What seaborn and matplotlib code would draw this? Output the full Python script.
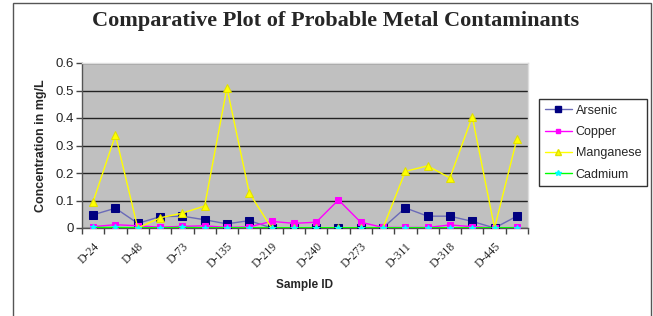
import numpy as np
import pandas as pd
import matplotlib
matplotlib.use("Agg")
import matplotlib.pyplot as plt
import seaborn as sns
from matplotlib.patches import Rectangle
from matplotlib.lines import Line2D

sample_labels = ["D-24", "D-48", "D-73", "D-135", "D-219", "D-240", "D-273", "D-311", "D-318", "D-445"]
arsenic = [0.048, 0.072, 0.017, 0.041, 0.043, 0.030, 0.015, 0.027, 0.0, 0.0,
           0.0, 0.0, 0.0, 0.001, 0.073, 0.043, 0.043, 0.024, 0.0, 0.043]
copper = [0.005, 0.012, 0.008, 0.003, 0.006, 0.008, 0.002, 0.004, 0.024, 0.017,
          0.021, 0.102, 0.021, 0.002, 0.002, 0.002, 0.011, 0.005, 0.0, 0.002]
manganese = [0.096, 0.338, 0.0, 0.037, 0.054, 0.080, 0.510, 0.128, 0.0, 0.0,
             0.0, 0.0, 0.0, 0.0, 0.206, 0.226, 0.182, 0.405, 0.0, 0.323]
cadmium = [0.002, 0.002, 0.001, 0.001, 0.002, 0.001, 0.001, 0.001, 0.001, 0.001,
           0.001, 0.001, 0.001, 0.001, 0.001, 0.001, 0.001, 0.001, 0.001, 0.001]

sns.set_theme(style="white")
plt.rcParams['font.family'] = ['Liberation Sans', 'DejaVu Sans']

n = len(arsenic)
xpos = np.arange(n)

fig = plt.figure(figsize=(6.53, 3.16), dpi=100)
ax = fig.add_axes([82/653, 1 - 228/316, 446/653, 165/316])
ax.set_facecolor("#C0C0C0")

series = [
    ("Arsenic", arsenic, dict(color="#6A6AB8", marker="s", markersize=5.8, markerfacecolor="#000080", markeredgecolor="#000080")),
    ("Copper", copper, dict(color="#FF00FF", marker="s", markersize=4, markerfacecolor="#FF00FF", markeredgecolor="#FF00FF")),
    ("Manganese", manganese, dict(color="#FFFF00", marker="^", markersize=5.5, markerfacecolor="#FFFF00", markeredgecolor="#E0E000")),
    ("Cadmium", cadmium, dict(color="#00FF00", marker="*", markersize=4, markerfacecolor="#00FFFF", markeredgecolor="#00FFFF")),
]

for name, vals, st in series:
    df = pd.DataFrame({"x": xpos, "y": vals})
    sns.lineplot(data=df, x="x", y="y", ax=ax, linewidth=1.0, zorder=3, **st)

ax.set_xlim(-0.5, n - 0.5)
ax.set_ylim(0, 0.6)
ax.set_yticks(np.arange(0, 0.61, 0.1))
ax.set_yticklabels(["0", "0.1", "0.2", "0.3", "0.4", "0.5", "0.6"], fontsize=9.5)
ax.yaxis.grid(True, color="#222222", linewidth=1.0)
ax.set_axisbelow(True)

ax.set_xticks(np.arange(-0.5, n, 1.0), minor=True)
ax.set_xticks(xpos[::2])
ax.set_xticklabels(sample_labels, rotation=45, ha="right", rotation_mode="anchor",
                   family=["Liberation Serif", "DejaVu Serif"], fontsize=8.5)
ax.tick_params(axis="x", which="major", length=0, pad=9)
ax.tick_params(axis="x", which="minor", length=4, width=1, color="#444444", direction="out", bottom=True)
ax.tick_params(axis="y", length=4, width=1, color="#444444", direction="out", left=True, pad=2)

for s in ["left", "bottom"]:
    ax.spines[s].set_color("#555555")
    ax.spines[s].set_linewidth(1.0)
for s in ["top", "right"]:
    ax.spines[s].set_color("#DDDDDD")
    ax.spines[s].set_linewidth(1.0)

ax.set_xlabel("Sample ID", fontsize=8.5, fontweight="bold", labelpad=6)
ax.set_ylabel("Concentration in mg/L", fontsize=9, fontweight="bold", labelpad=6)

fig.text(336/653, 1 - 21/316, "Comparative Plot of Probable Metal Contaminants",
         ha="center", va="center", fontsize=16, fontweight="bold",
         family=["Liberation Serif", "DejaVu Serif"])

leg_sizes = {"Arsenic": 4.5, "Copper": 3.5, "Manganese": 4.5, "Cadmium": 4}
handles = []
for name, vals, st in series:
    st2 = dict(st)
    st2["markersize"] = leg_sizes[name]
    handles.append(Line2D([0], [0], linewidth=1.0, label=name, **st2))
leg = fig.legend(handles=handles, loc="upper left", bbox_to_anchor=(539/653, 1 - 99/316),
                 frameon=True, fancybox=False, fontsize=9, handlelength=2.2,
                 handletextpad=0.3, borderpad=0.45, labelspacing=0.75, borderaxespad=0)
leg.get_frame().set_edgecolor("black")
leg.get_frame().set_linewidth(1.0)

fig.patches.append(Rectangle((13/653, -0.05), 638/653, 1.05 - 3/316, transform=fig.transFigure,
                             fill=False, edgecolor="#555555", linewidth=1.0))

fig.savefig("out.png", dpi=100)
